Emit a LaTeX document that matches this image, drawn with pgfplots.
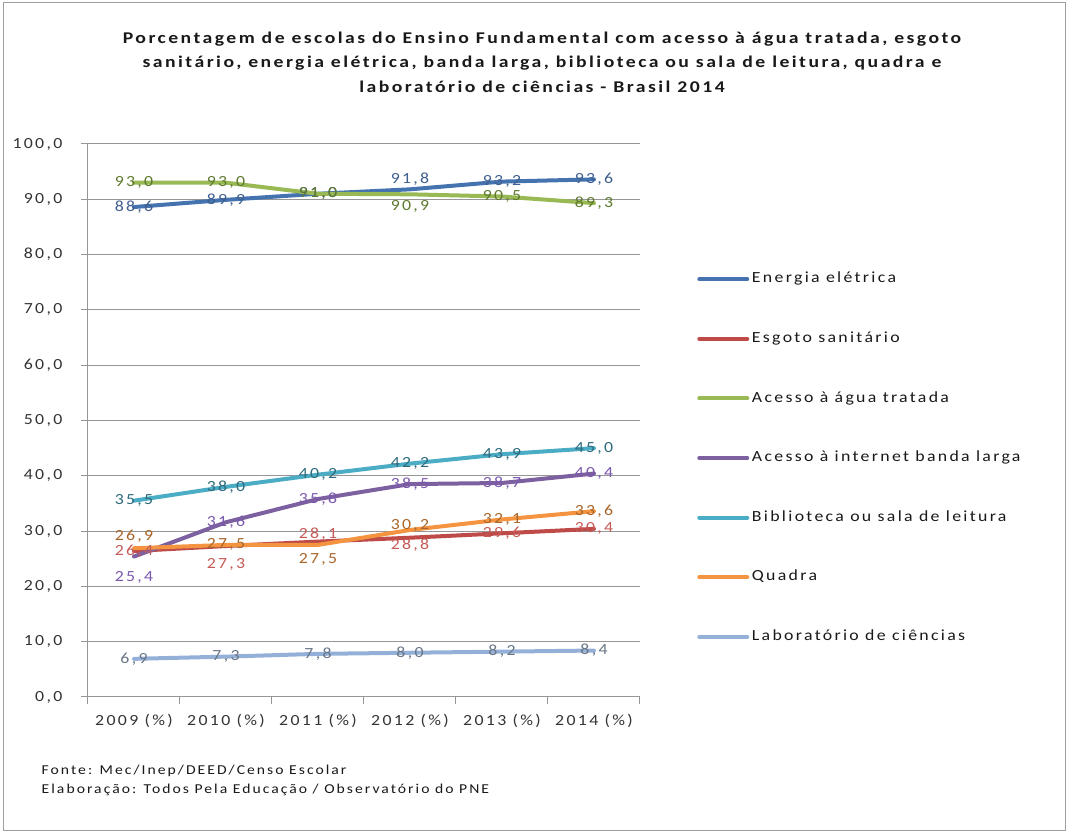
\documentclass[border=0pt]{standalone}
\usepackage{fontspec}
\setmainfont{Carlito}[FakeStretch=1.15,LetterSpace=15]
\newfontfamily\titlefont{Carlito}[FakeStretch=1.2,LetterSpace=15]
\usepackage{pgfplots}
\pgfplotsset{compat=1.18}
\usepackage{pgfplotstable}
\definecolor{cEn}{HTML}{4573B0}
\definecolor{cEs}{HTML}{BE4B48}
\definecolor{cAg}{HTML}{98B954}
\definecolor{cIn}{HTML}{7D60A0}
\definecolor{cBi}{HTML}{4AACC5}
\definecolor{cQu}{HTML}{F59440}
\definecolor{cLa}{HTML}{95B0D8}
\definecolor{lEn}{HTML}{3E5F8F}
\definecolor{lEs}{HTML}{C65A56}
\definecolor{lAg}{HTML}{5E7A2E}
\definecolor{lIn}{HTML}{7A58AE}
\definecolor{lBi}{HTML}{2E6A7C}
\definecolor{lQu}{HTML}{A8652A}
\definecolor{lLa}{HTML}{687686}
\definecolor{gridc}{HTML}{969696}
\definecolor{txt}{HTML}{333333}

\pgfplotstableread{
x y dy
0 88.6 0
1 89.9 0
2 91.0 0
3 91.8 7.5
4 93.2 0
5 93.6 0
}\tEn
\pgfplotstableread{
x y dy
0 26.4 0
1 27.3 -13.5
2 28.1 5.25
3 28.8 -5.25
4 29.6 0
5 30.4 0
}\tEs
\pgfplotstableread{
x y dy
0 93.0 0
1 93.0 0
2 91.0 0
3 90.9 -9
4 90.5 0
5 89.3 0
}\tAg
\pgfplotstableread{
x y dy
0 25.4 -15.75
1 31.6 0
2 35.8 0
3 38.5 0
4 38.7 0
5 40.4 0
}\tIn
\pgfplotstableread{
x y dy
0 35.5 0
1 38.0 0
2 40.2 0
3 42.2 0
4 43.9 0
5 45.0 0
}\tBi
\pgfplotstableread{
x y dy
0 26.9 9
1 27.5 0
2 27.5 -11.25
3 30.2 3.75
4 32.1 0
5 33.6 0
}\tQu
\pgfplotstableread{
x y dy
0 6.9 0
1 7.3 0
2 7.8 0
3 8.0 0
4 8.2 0
5 8.4 0
}\tLa

\newcommand{\lbl}[2]{\addplot[draw=none, forget plot,
  nodes near coords={\pgfmathprintnumber[fixed,fixed zerofill,precision=1,use comma,assume math mode=true]{\pgfplotspointmeta}},
  visualization depends on={\thisrow{dy}\as\dy},
  every node near coord/.append style={anchor=center, yshift=\dy pt, text=#2, inner sep=0pt, font=\fontsize{11.6}{14}\selectfont}]
  table[x=x,y=y]{#1};}

\begin{document}
\begin{tikzpicture}
\path[fill=white] (0,0) rectangle (801pt,625.5pt);
\draw[gray!75, line width=0.75pt] (2.25pt,2.25pt) rectangle (798.75pt,623.25pt);
\node[align=center, font=\titlefont\bfseries\fontsize{12.3}{18.4}\selectfont, text=black!90] at (406.5pt,579pt)
 {Porcentagem de escolas do Ensino Fundamental com acesso à água tratada, esgoto\\
  sanitário, energia elétrica, banda larga, biblioteca ou sala de leitura, quadra e\\
  laboratório de ciências - Brasil 2014};
\node[anchor=west, align=left, font=\fontsize{10.2}{14.25}\selectfont, text=black!90] at (27.75pt,40pt)
 {Fonte: Mec/Inep/DEED/Censo Escolar\\Elaboração: Todos Pela Educação / Observatório do PNE};
\begin{axis}[
  at={(66pt,102.75pt)}, anchor=south west,
  scale only axis, width=414pt, height=414.75pt,
  xmin=-0.5, xmax=5.5, ymin=0, ymax=100,
  axis lines=left, axis line style={-, draw=gridc, line width=0.75pt},
  tick align=outside, major tick length=5.25pt,
  tick style={draw=gridc, line width=0.75pt},
  xtick={-0.5,0.5,1.5,2.5,3.5,4.5,5.5}, xticklabels={},
  extra x ticks={0,1,2,3,4,5},
  extra x tick labels={2009 (\%),2010 (\%),2011 (\%),2012 (\%),2013 (\%),2014 (\%)},
  extra x tick style={major tick length=0pt, xticklabel style={yshift=-9pt}},
  ytick={0,10,...,100},
  yticklabel={\pgfmathprintnumber[fixed,fixed zerofill,precision=1,use comma,assume math mode=true]{\tick}},
  yticklabel style={xshift=-10.5pt},
  ticklabel style={font=\fontsize{11.6}{14}\selectfont, text=txt},
  ymajorgrids, grid style={draw=gridc, line width=0.75pt},
  clip=false,
  legend style={at={(1.1033,0.7686)}, anchor=north west, draw=none, fill=none,
    inner sep=0pt, row sep=34.2pt, column sep=2pt,
    nodes={inner sep=0pt, text height=8pt, text depth=2.5pt, font=\fontsize{11.6}{14}\selectfont, text=black!90}},
  legend cell align=left,
  legend image code/.code={\draw[#1, line width=3pt, line cap=round] (0pt,0pt) -- (36pt,0pt);},
  every axis plot/.append style={line width=3pt, line cap=round, line join=round},
]
\addplot[cEn] table[x=x,y=y]{\tEn}; \addlegendentry{Energia elétrica}
\addplot[cEs] table[x=x,y=y]{\tEs}; \addlegendentry{Esgoto sanitário}
\addplot[cAg] table[x=x,y=y]{\tAg}; \addlegendentry{Acesso à água tratada}
\addplot[cIn] table[x=x,y=y]{\tIn}; \addlegendentry{Acesso à internet banda larga}
\addplot[cBi] table[x=x,y=y]{\tBi}; \addlegendentry{Biblioteca ou sala de leitura}
\addplot[cQu] table[x=x,y=y]{\tQu}; \addlegendentry{Quadra}
\addplot[cLa] table[x=x,y=y]{\tLa}; \addlegendentry{Laboratório de ciências}
\lbl{\tEn}{lEn}
\lbl{\tEs}{lEs}
\lbl{\tAg}{lAg}
\lbl{\tIn}{lIn}
\lbl{\tBi}{lBi}
\lbl{\tQu}{lQu}
\lbl{\tLa}{lLa}
\end{axis}
\end{tikzpicture}
\end{document}
